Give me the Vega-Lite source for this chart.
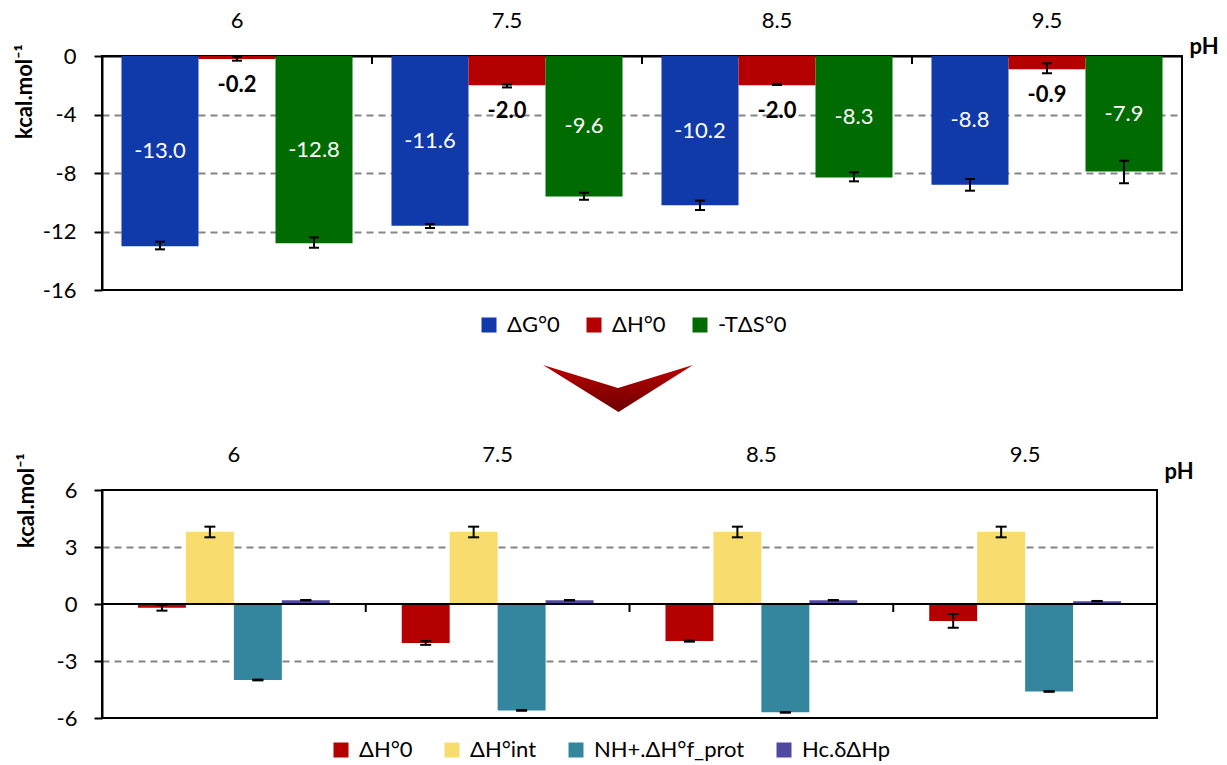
{
  "$schema": "https://vega.github.io/schema/vega-lite/v6.json",
  "padding": {"left": 12, "top": 8, "right": 0, "bottom": 0},
  "background": "white",
  "spacing": 0,
  "config": {
    "font": "Lato",
    "locale": {"number": {"decimal": ".", "thousands": ",", "grouping": [3], "currency": ["", ""], "minus": "-"}},
    "view": {"stroke": "black", "strokeWidth": 2},
    "axis": {"labelFont": "Lato", "labelFontSize": 22, "labelColor": "black", "titleFont": "Lato", "titleFontSize": 22, "titleFontWeight": "bold", "titleColor": "black", "domainColor": "black", "domainWidth": 2, "tickColor": "black", "tickWidth": 2},
    "legend": {"labelFont": "Lato", "labelFontSize": 22, "labelColor": "black", "symbolType": "square", "symbolSize": 225, "symbolStrokeWidth": 0, "labelOffset": 7}
  },
  "datasets": {
    "top": [
      {"pH": "6", "series": "ΔG°0", "value": -13.0, "lo": -13.22, "hi": -12.70},
      {"pH": "6", "series": "ΔH°0", "value": -0.2, "lo": -0.32, "hi": -0.07},
      {"pH": "6", "series": "-TΔS°0", "value": -12.8, "lo": -13.11, "hi": -12.40},
      {"pH": "7.5", "series": "ΔG°0", "value": -11.6, "lo": -11.76, "hi": -11.49},
      {"pH": "7.5", "series": "ΔH°0", "value": -2.0, "lo": -2.15, "hi": -1.95},
      {"pH": "7.5", "series": "-TΔS°0", "value": -9.6, "lo": -9.83, "hi": -9.35},
      {"pH": "8.5", "series": "ΔG°0", "value": -10.2, "lo": -10.53, "hi": -9.89},
      {"pH": "8.5", "series": "ΔH°0", "value": -2.0, "lo": -1.98, "hi": -1.91},
      {"pH": "8.5", "series": "-TΔS°0", "value": -8.3, "lo": -8.57, "hi": -7.95},
      {"pH": "9.5", "series": "ΔG°0", "value": -8.8, "lo": -9.21, "hi": -8.41},
      {"pH": "9.5", "series": "ΔH°0", "value": -0.9, "lo": -1.18, "hi": -0.5},
      {"pH": "9.5", "series": "-TΔS°0", "value": -7.9, "lo": -8.7, "hi": -7.16}
    ],
    "bottom": [
      {"pH": "6", "series": "ΔH°0", "value": -0.2, "lo": -0.35, "hi": -0.05},
      {"pH": "6", "series": "ΔH°int", "value": 3.8, "lo": 3.51, "hi": 4.07},
      {"pH": "6", "series": "NH+.ΔH°f_prot", "value": -4.0, "lo": -4.02, "hi": -3.98},
      {"pH": "6", "series": "Hc.δΔHp", "value": 0.2, "lo": 0.19, "hi": 0.21},
      {"pH": "7.5", "series": "ΔH°0", "value": -2.05, "lo": -2.15, "hi": -1.95},
      {"pH": "7.5", "series": "ΔH°int", "value": 3.8, "lo": 3.51, "hi": 4.07},
      {"pH": "7.5", "series": "NH+.ΔH°f_prot", "value": -5.6, "lo": -5.62, "hi": -5.58},
      {"pH": "7.5", "series": "Hc.δΔHp", "value": 0.2, "lo": 0.19, "hi": 0.21},
      {"pH": "8.5", "series": "ΔH°0", "value": -1.95, "lo": -1.98, "hi": -1.93},
      {"pH": "8.5", "series": "ΔH°int", "value": 3.8, "lo": 3.51, "hi": 4.07},
      {"pH": "8.5", "series": "NH+.ΔH°f_prot", "value": -5.7, "lo": -5.72, "hi": -5.69},
      {"pH": "8.5", "series": "Hc.δΔHp", "value": 0.2, "lo": 0.19, "hi": 0.21},
      {"pH": "9.5", "series": "ΔH°0", "value": -0.9, "lo": -1.25, "hi": -0.53},
      {"pH": "9.5", "series": "ΔH°int", "value": 3.8, "lo": 3.51, "hi": 4.07},
      {"pH": "9.5", "series": "NH+.ΔH°f_prot", "value": -4.6, "lo": -4.62, "hi": -4.59},
      {"pH": "9.5", "series": "Hc.δΔHp", "value": 0.15, "lo": 0.14, "hi": 0.16}
    ]
  },
  "resolve": {"scale": {"x": "independent", "xOffset": "independent", "y": "independent", "color": "independent"}, "legend": {"color": "independent"}},
  "vconcat": [
    {
      "width": 1080,
      "height": 234,
      "data": {"name": "top"},
      "resolve": {"scale": {"y": "independent"}},
      "layer": [
        {
          "layer": [
            {
              "mark": {"type": "bar"},
              "encoding": {
                "x": {"field": "pH", "type": "nominal", "scale": {"domain": ["6", "7.5", "8.5", "9.5"], "paddingInner": 0, "paddingOuter": 0},
                  "axis": {"orient": "top", "title": "pH", "labelAngle": 0, "ticks": false, "labelPadding": 24, "domain": true, "titleX": 1087, "titleY": -3, "titleAlign": "left", "titleBaseline": "alphabetic", "titleAnchor": null}},
                "xOffset": {"field": "series", "type": "nominal", "scale": {"domain": ["ΔG°0", "ΔH°0", "-TΔS°0"], "paddingInner": 0, "paddingOuter": 0.253}},
                "y": {"field": "value", "type": "quantitative", "scale": {"domain": [-16, 0], "nice": false},
                  "axis": {"values": [0, -4, -8, -12, -16], "title": "kcal.mol⁻¹", "titleX": -78, "titleY": 35, "titleAlign": "center", "titleBaseline": "middle", "titleAngle": 270, "tickSize": 8, "labelPadding": 18, "grid": true, "gridColor": "#858585", "gridDash": [7, 5], "gridWidth": 2,
                    "gridOpacity": {"condition": {"test": "datum.value === 0 || datum.value === -16", "value": 0}, "value": 1}}},
                "color": {"field": "series", "type": "nominal",
                  "scale": {"domain": ["ΔG°0", "ΔH°0", "-TΔS°0"], "range": ["#1039a9", "#b40000", "#006b00"]},
                  "legend": {"orient": "none", "legendX": 376, "legendY": 258, "direction": "horizontal", "columns": 3, "title": null, "columnPadding": 23}}
              }
            },
            {
              "mark": {"type": "rule", "color": "black", "strokeWidth": 2},
              "encoding": {
                "x": {"field": "pH", "type": "nominal", "scale": {"domain": ["6", "7.5", "8.5", "9.5"]}},
                "xOffset": {"field": "series", "type": "nominal", "scale": {"domain": ["ΔG°0", "ΔH°0", "-TΔS°0"]}},
                "y": {"field": "lo", "type": "quantitative"},
                "y2": {"field": "hi"}
              }
            },
            {
              "mark": {"type": "tick", "orient": "horizontal", "size": 10, "thickness": 2, "color": "black", "opacity": 1},
              "encoding": {
                "x": {"field": "pH", "type": "nominal", "scale": {"domain": ["6", "7.5", "8.5", "9.5"]}},
                "xOffset": {"field": "series", "type": "nominal", "scale": {"domain": ["ΔG°0", "ΔH°0", "-TΔS°0"]}},
                "y": {"field": "lo", "type": "quantitative"}
              }
            },
            {
              "mark": {"type": "tick", "orient": "horizontal", "size": 10, "thickness": 2, "color": "black", "opacity": 1},
              "encoding": {
                "x": {"field": "pH", "type": "nominal", "scale": {"domain": ["6", "7.5", "8.5", "9.5"]}},
                "xOffset": {"field": "series", "type": "nominal", "scale": {"domain": ["ΔG°0", "ΔH°0", "-TΔS°0"]}},
                "y": {"field": "hi", "type": "quantitative"}
              }
            },
            {
              "transform": [{"filter": "datum.series === 'ΔH°0'"}],
              "mark": {"type": "text", "color": "black", "fontSize": 22, "fontWeight": "bold", "baseline": "middle", "dy": 26},
              "encoding": {
                "x": {"field": "pH", "type": "nominal", "scale": {"domain": ["6", "7.5", "8.5", "9.5"]}},
                "xOffset": {"field": "series", "type": "nominal", "scale": {"domain": ["ΔG°0", "ΔH°0", "-TΔS°0"]}},
                "y": {"field": "value", "type": "quantitative"},
                "text": {"field": "value", "type": "quantitative", "format": ".1f"}
              }
            },
            {
              "transform": [{"filter": "datum.series === 'ΔG°0'"}],
              "mark": {"type": "rule", "color": "black", "strokeWidth": 2},
              "encoding": {
                "x": {"field": "pH", "type": "nominal", "scale": {"domain": ["6", "7.5", "8.5", "9.5"]}, "bandPosition": 0},
                "y": {"datum": 0},
                "y2": {"datum": -0.55}
              }
            }
          ]
        },
        {
          "transform": [{"filter": "datum.series !== 'ΔH°0'"}],
          "mark": {"type": "text", "color": "white", "fontSize": 22, "baseline": "middle"},
          "encoding": {
            "x": {"field": "pH", "type": "nominal", "scale": {"domain": ["6", "7.5", "8.5", "9.5"]}},
            "xOffset": {"field": "series", "type": "nominal", "scale": {"domain": ["ΔG°0", "ΔH°0", "-TΔS°0"]}},
            "y": {"field": "value", "type": "quantitative", "scale": {"domain": [-32, 0], "nice": false}, "axis": null},
            "text": {"field": "value", "type": "quantitative", "format": ".1f"}
          }
        }
      ]
    },
    {
      "width": 1032,
      "height": 105,
      "view": {"stroke": null},
      "data": {"values": [{"item": "arrow"}]},
      "mark": {"type": "point", "shape": "M-1,-0.326L0,-0.02L1,-0.326L0.007,0.3Z", "size": 22500, "filled": true, "opacity": 1, "strokeWidth": 0,
        "fill": {"gradient": "linear", "x1": 0, "y1": 0, "x2": 0, "y2": 1, "stops": [{"offset": 0, "color": "#bb0000"}, {"offset": 1, "color": "#6a0000"}]}},
      "encoding": {}
    },
    {
      "width": 1055,
      "height": 228,
      "data": {"name": "bottom"},
      "layer": [
        {
          "mark": {"type": "bar"},
          "encoding": {
            "x": {"field": "pH", "type": "nominal", "scale": {"domain": ["6", "7.5", "8.5", "9.5"], "paddingInner": 0, "paddingOuter": 0},
              "axis": {"orient": "top", "title": "pH", "labelAngle": 0, "ticks": false, "labelPadding": 24, "domain": false, "titleX": 1062, "titleY": -12, "titleAlign": "left", "titleBaseline": "alphabetic", "titleAnchor": null}},
            "xOffset": {"field": "series", "type": "nominal", "scale": {"domain": ["ΔH°0", "ΔH°int", "NH+.ΔH°f_prot", "Hc.δΔHp"], "paddingInner": 0, "paddingOuter": 0.75}},
            "y": {"field": "value", "type": "quantitative", "scale": {"domain": [-6, 6], "nice": false},
              "axis": {"values": [6, 3, 0, -3, -6], "title": "kcal.mol⁻¹", "titleX": -76, "titleY": 10, "titleAlign": "center", "titleBaseline": "middle", "titleAngle": 270, "tickSize": 8, "labelPadding": 17, "grid": true, "gridColor": "#858585", "gridDash": [7, 5], "gridWidth": 2,
                "gridOpacity": {"condition": {"test": "datum.value === 0 || datum.value === 6 || datum.value === -6", "value": 0}, "value": 1}}},
            "color": {"field": "series", "type": "nominal",
              "scale": {"domain": ["ΔH°0", "ΔH°int", "NH+.ΔH°f_prot", "Hc.δΔHp"], "range": ["#b40000", "#f9dc6e", "#33869d", "#4f47a0"]},
              "legend": {"orient": "none", "legendX": 228, "legendY": 249, "direction": "horizontal", "columns": 4, "title": null, "columnPadding": 28}}
          }
        },
        {
          "transform": [{"filter": "datum.series === 'ΔH°0' && datum.pH === '6'"}],
          "mark": {"type": "rule", "color": "black", "strokeWidth": 2},
          "encoding": {"y": {"datum": 0}}
        },
        {
          "mark": {"type": "rule", "color": "black", "strokeWidth": 2},
          "encoding": {
            "x": {"field": "pH", "type": "nominal", "scale": {"domain": ["6", "7.5", "8.5", "9.5"]}},
            "xOffset": {"field": "series", "type": "nominal", "scale": {"domain": ["ΔH°0", "ΔH°int", "NH+.ΔH°f_prot", "Hc.δΔHp"]}},
            "y": {"field": "lo", "type": "quantitative"},
            "y2": {"field": "hi"}
          }
        },
        {
          "mark": {"type": "tick", "orient": "horizontal", "size": 11, "thickness": 2, "color": "black", "opacity": 1},
          "encoding": {
            "x": {"field": "pH", "type": "nominal", "scale": {"domain": ["6", "7.5", "8.5", "9.5"]}},
            "xOffset": {"field": "series", "type": "nominal", "scale": {"domain": ["ΔH°0", "ΔH°int", "NH+.ΔH°f_prot", "Hc.δΔHp"]}},
            "y": {"field": "lo", "type": "quantitative"}
          }
        },
        {
          "mark": {"type": "tick", "orient": "horizontal", "size": 11, "thickness": 2, "color": "black", "opacity": 1},
          "encoding": {
            "x": {"field": "pH", "type": "nominal", "scale": {"domain": ["6", "7.5", "8.5", "9.5"]}},
            "xOffset": {"field": "series", "type": "nominal", "scale": {"domain": ["ΔH°0", "ΔH°int", "NH+.ΔH°f_prot", "Hc.δΔHp"]}},
            "y": {"field": "hi", "type": "quantitative"}
          }
        },
        {
          "transform": [{"filter": "datum.series === 'ΔH°0'"}],
          "mark": {"type": "rule", "color": "black", "strokeWidth": 2},
          "encoding": {
            "x": {"field": "pH", "type": "nominal", "scale": {"domain": ["6", "7.5", "8.5", "9.5"]}, "bandPosition": 0},
            "y": {"datum": 0},
            "y2": {"datum": -0.42}
          }
        }
      ]
    }
  ]
}
